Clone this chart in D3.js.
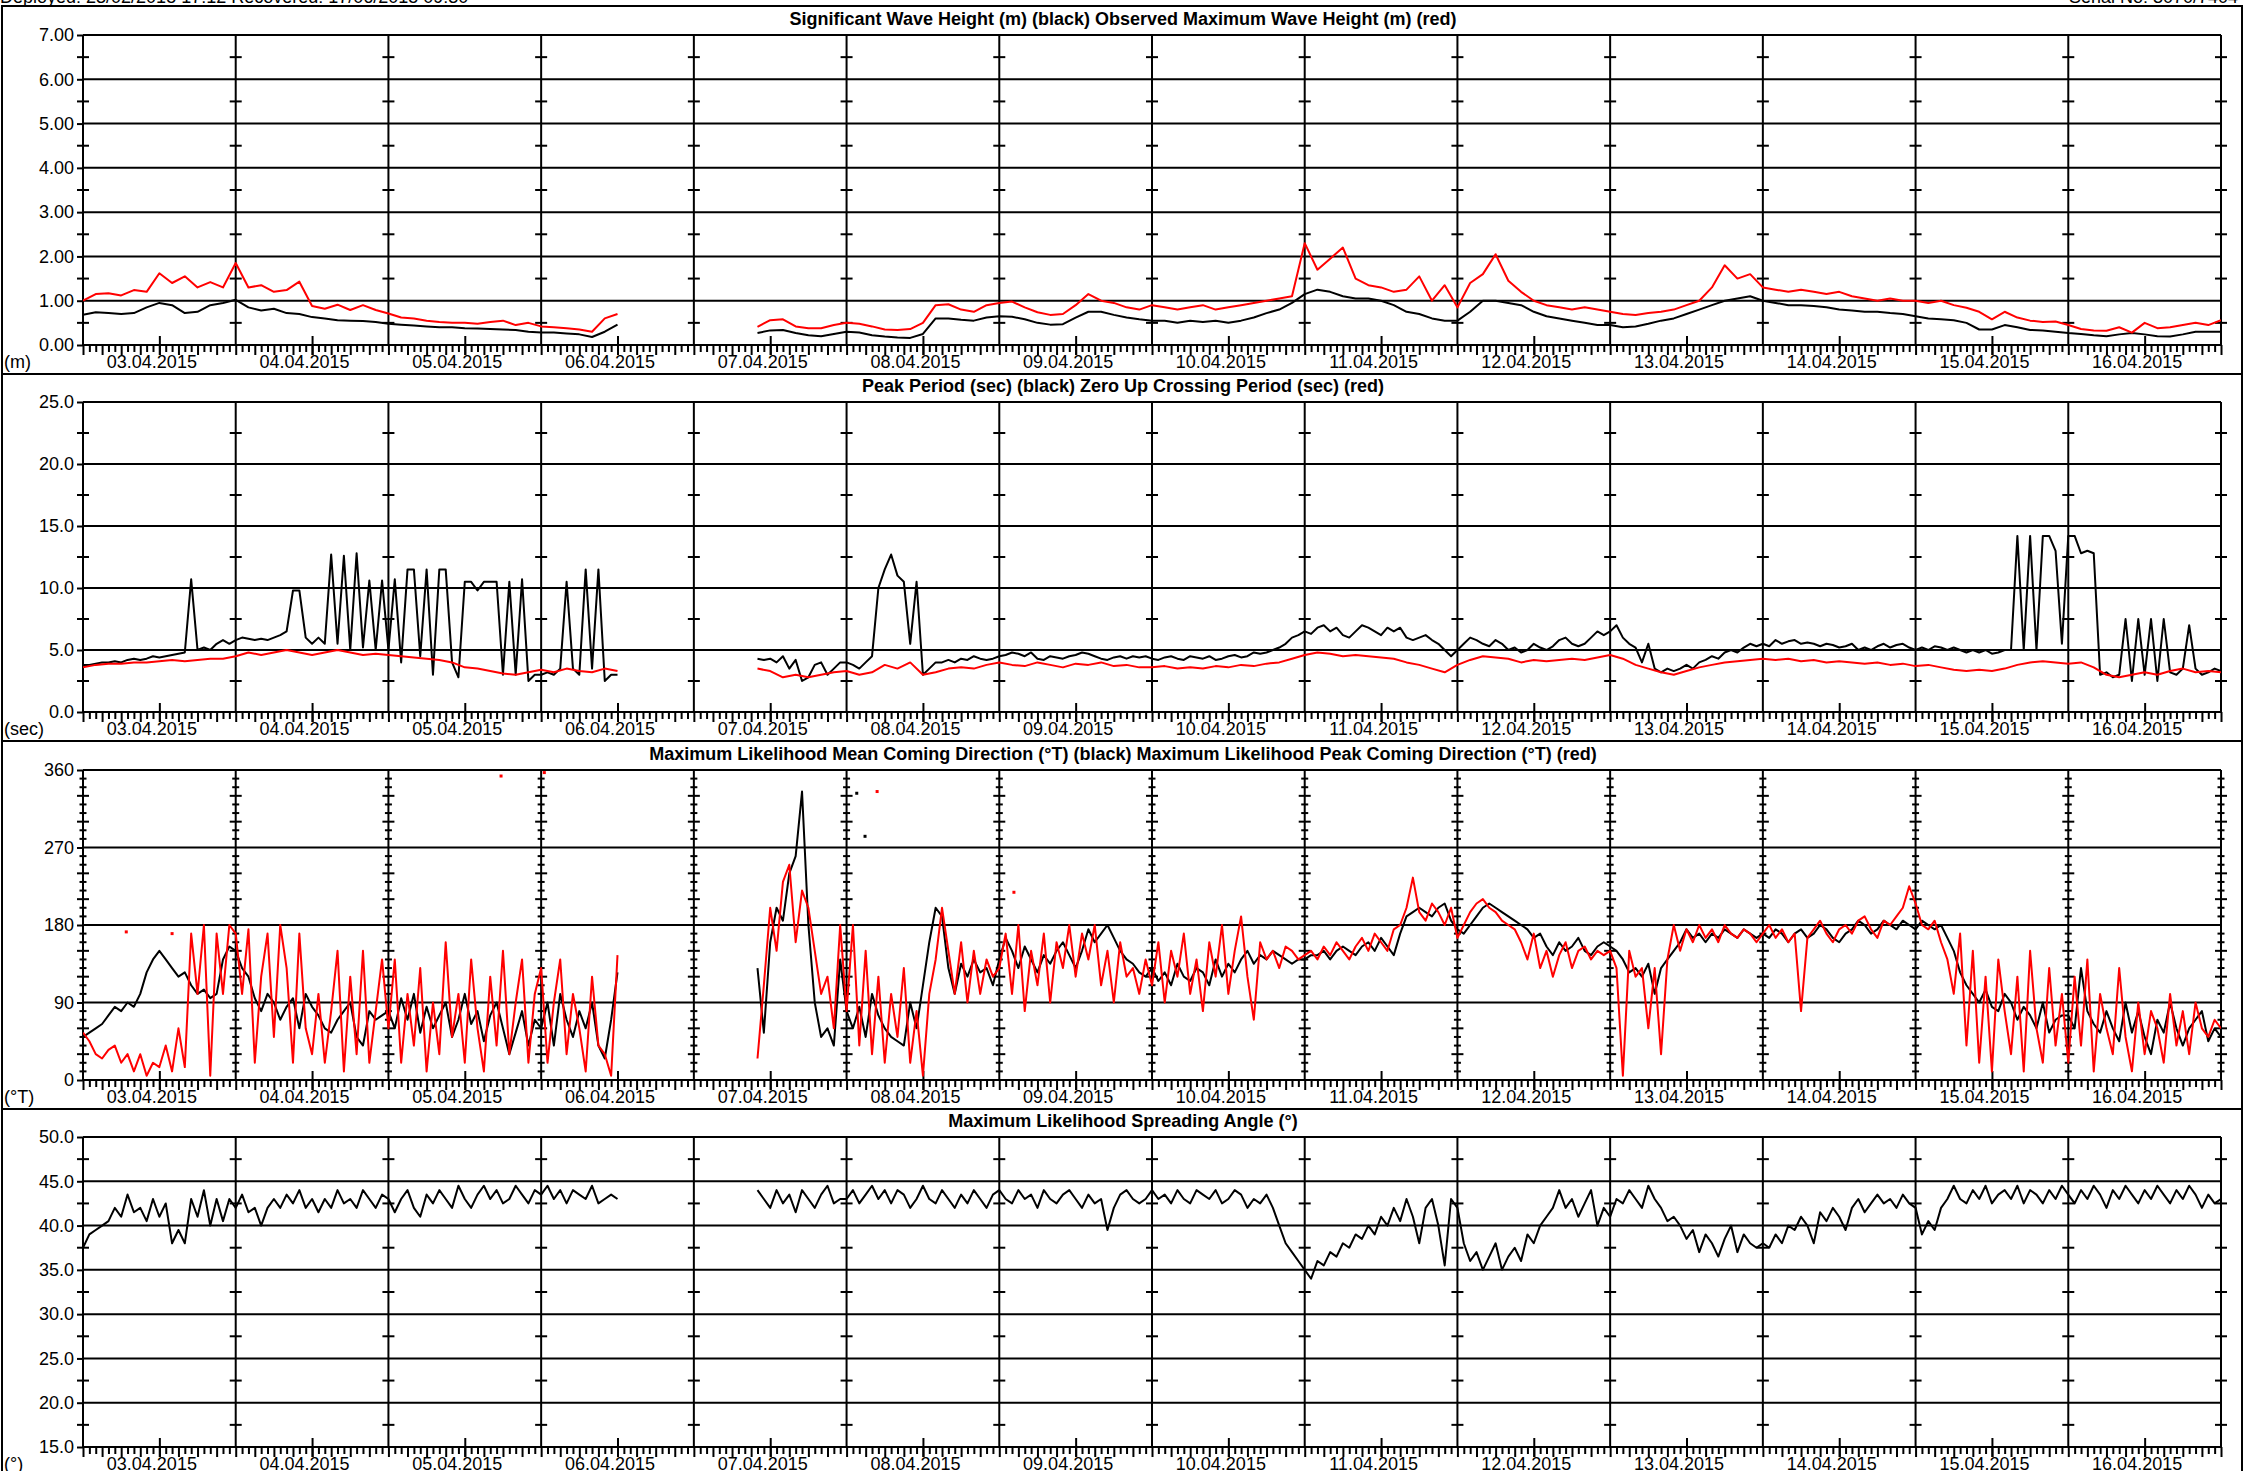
<!DOCTYPE html>
<html>
<head>
<meta charset="utf-8">
<script src="https://cdn.jsdelivr.net/npm/d3@7"></script>
<style>
  body { margin: 0; background: #fff; }
  svg { display: block; }
</style>
</head>
<body>
<svg id="chart" width="2246" height="1471"></svg>
<script>
// ---- data: each series is two segments (before / after the recording gap)
// segment A starts 03.04.2015 00:00, segment B starts 07.04.2015 10:00
const SEG_A_START = 0, SEG_B_START = 106; // hours since 03.04 00:00

// Significant wave height (m), 2 h step
const hsBlackA = [0.68,0.74,0.72,0.70,0.72,0.85,0.95,0.90,0.72,0.75,
  0.90,0.95,1.02,0.85,0.78,0.82,0.72,0.70,0.63,0.60,
  0.56,0.55,0.54,0.52,0.48,0.46,0.44,0.42,0.40,0.40,
  0.38,0.37,0.36,0.35,0.34,0.30,0.28,0.28,0.26,0.24,
  0.18,0.30,0.46];
const hsBlackB = [0.27,0.33,0.34,0.27,0.22,0.20,0.25,0.30,0.28,0.22,
  0.19,0.17,0.16,0.25,0.60,0.60,0.57,0.55,0.62,0.65,
  0.64,0.58,0.50,0.46,0.47,0.62,0.75,0.75,0.68,0.62,
  0.58,0.55,0.55,0.50,0.55,0.52,0.55,0.50,0.55,0.62,
  0.72,0.80,0.95,1.15,1.25,1.20,1.10,1.05,1.05,1.00,
  0.90,0.75,0.70,0.60,0.55,0.55,0.75,1.00,1.00,0.95,
  0.90,0.75,0.65,0.60,0.55,0.50,0.45,0.45,0.40,0.42,
  0.48,0.55,0.60,0.70,0.80,0.90,1.00,1.05,1.10,1.00,
  0.95,0.90,0.90,0.88,0.85,0.80,0.78,0.75,0.75,0.72,
  0.70,0.65,0.60,0.58,0.56,0.50,0.35,0.35,0.45,0.40,
  0.34,0.33,0.30,0.27,0.25,0.22,0.20,0.24,0.27,0.24,
  0.20,0.19,0.24,0.30,0.30,0.30];
// Observed maximum wave height (m), 2 h step
const hmaxRedA = [1.00,1.15,1.17,1.12,1.24,1.20,1.62,1.40,1.55,1.30,
  1.42,1.30,1.85,1.30,1.35,1.20,1.24,1.43,0.88,0.82,
  0.91,0.79,0.90,0.79,0.71,0.62,0.60,0.55,0.52,0.50,
  0.50,0.48,0.52,0.55,0.45,0.50,0.42,0.40,0.38,0.35,
  0.30,0.60,0.70];
const hmaxRedB = [0.41,0.56,0.58,0.42,0.38,0.38,0.45,0.50,0.48,0.42,
  0.35,0.34,0.36,0.50,0.90,0.92,0.80,0.75,0.90,0.95,
  0.98,0.85,0.74,0.68,0.70,0.90,1.15,1.00,0.95,0.85,
  0.80,0.90,0.85,0.80,0.85,0.90,0.80,0.85,0.90,0.95,
  1.00,1.05,1.10,2.30,1.70,1.95,2.20,1.50,1.35,1.30,
  1.20,1.25,1.55,1.00,1.35,0.85,1.40,1.60,2.05,1.45,
  1.20,1.00,0.90,0.85,0.80,0.85,0.80,0.75,0.70,0.68,
  0.72,0.75,0.80,0.90,1.00,1.30,1.80,1.50,1.60,1.30,
  1.25,1.20,1.25,1.20,1.15,1.20,1.10,1.05,1.00,1.05,
  1.00,1.00,0.95,1.00,0.90,0.84,0.75,0.58,0.75,0.62,
  0.55,0.52,0.53,0.45,0.36,0.33,0.32,0.40,0.28,0.50,
  0.38,0.40,0.45,0.50,0.45,0.56];

// Peak period (sec), 1 h step
const tpBlackA = [3.8,3.8,3.9,4.0,4.0,4.1,4.0,4.2,4.3,4.2,4.3,4.5,4.4,4.5,4.6,4.7,4.8,10.7,5.0,5.2,5.0,5.5,5.8,5.5,
  5.8,6.0,5.9,5.8,5.9,5.8,6.0,6.2,6.5,9.8,9.8,6.0,5.5,6.0,5.5,12.7,5.5,12.6,5.0,12.8,5.2,10.6,5.0,10.6,
  5.0,10.7,4.0,11.5,11.5,4.5,11.5,3.0,11.5,11.5,4.0,2.8,10.5,10.5,9.8,10.5,10.5,10.5,3.0,10.5,3.0,10.7,2.5,3.0,
  3.0,3.2,3.0,3.5,10.5,3.5,3.0,11.5,3.5,11.5,2.5,3.0,3.0];
const tpBlackB = [4.3,4.2,4.3,4.0,4.5,3.5,4.2,2.5,2.8,3.8,4.0,3.0,3.5,4.0,
  4.0,3.8,3.5,4.0,4.5,10.0,11.5,12.7,11.0,10.5,5.5,10.5,3.0,3.5,4.0,4.0,4.2,4.0,4.3,4.2,4.5,4.3,4.2,4.3,
  4.5,4.6,4.8,4.7,4.5,4.8,4.3,4.2,4.5,4.4,4.3,4.5,4.6,4.8,4.7,4.5,4.3,4.2,4.4,4.5,4.3,4.5,4.4,4.5,
  4.3,4.2,4.4,4.5,4.3,4.2,4.5,4.4,4.3,4.5,4.2,4.3,4.5,4.6,4.4,4.5,4.8,4.7,4.8,5.0,5.2,5.5,6.0,6.2,
  6.5,6.3,6.8,7.0,6.5,6.8,6.2,6.0,6.5,7.0,6.8,6.5,6.2,6.8,6.5,6.8,6.0,5.8,6.0,6.2,5.8,5.5,5.0,4.5,
  5.0,5.5,6.0,5.8,5.5,5.3,5.8,5.5,5.0,5.2,4.8,5.0,5.5,5.2,5.0,5.3,5.8,6.0,5.5,5.3,5.5,6.0,6.5,6.2,
  6.5,7.0,6.0,5.5,5.2,4.0,5.5,3.5,3.2,3.5,3.3,3.5,3.8,3.5,4.0,4.2,4.5,4.3,4.8,5.0,4.8,5.2,5.5,5.3,
  5.5,5.3,5.8,5.5,5.7,5.8,5.5,5.6,5.5,5.3,5.5,5.4,5.2,5.3,5.5,5.0,5.2,5.0,5.3,5.5,5.2,5.4,5.5,5.2,
  5.0,5.2,5.0,5.3,5.2,5.0,5.2,5.0,4.8,5.0,4.8,5.0,4.7,4.8,5.0,5.0,14.2,5.0,14.2,5.0,14.2,14.2,13.0,5.5,
  14.2,14.2,12.8,13.0,12.8,3.0,3.2,2.8,3.0,7.5,2.5,7.5,3.0,7.5,2.5,7.5,3.2,3.0,3.5,7.0,3.5,3.0,3.2,3.5,3.3];
// Zero up crossing period (sec), 2 h step
const tzRedA = [3.6,3.8,3.9,3.9,4.0,4.0,4.1,4.2,4.1,4.2,4.3,4.3,
  4.5,4.8,4.6,4.8,5.0,4.8,4.6,4.8,5.0,4.8,4.6,4.7,
  4.6,4.5,4.4,4.3,4.2,4.0,3.6,3.5,3.3,3.1,3.0,3.2,
  3.4,3.2,3.5,3.3,3.2,3.5,3.3];
const tzRedB = [3.5,3.3,2.8,3.0,2.8,3.0,3.2,
  3.3,3.0,3.2,3.8,3.5,4.0,3.0,3.2,3.5,3.6,3.5,3.8,
  4.0,3.8,3.7,4.0,3.8,3.6,3.9,3.8,4.0,3.7,3.8,3.6,
  3.6,3.7,3.5,3.6,3.5,3.7,3.6,3.8,3.7,3.9,4.0,4.3,
  4.6,4.8,4.7,4.5,4.6,4.5,4.4,4.3,4.0,3.8,3.5,3.2,
  3.8,4.2,4.5,4.4,4.3,4.0,4.2,4.1,4.2,4.3,4.2,4.4,
  4.6,4.3,3.8,3.5,3.2,3.0,3.3,3.6,3.8,4.0,4.1,4.2,
  4.3,4.2,4.3,4.1,4.2,4.0,4.1,4.0,3.9,4.0,3.8,3.9,
  3.7,3.8,3.6,3.4,3.3,3.4,3.3,3.5,3.8,4.0,4.1,4.0,
  3.9,4.0,3.6,3.0,2.8,3.0,3.2,3.0,3.3,3.5,3.2,3.3,3.2];

// Mean coming direction (°T), 1 h step
const dirMeanA = [50,55,60,65,75,85,80,90,85,100,125,140,150,140,130,120,125,110,100,105,95,100,140,155,
  150,130,120,95,80,100,90,70,85,95,60,100,85,75,60,55,70,80,90,50,40,80,70,75,
  80,60,95,70,100,55,85,60,75,90,50,70,100,65,80,45,75,90,60,30,55,80,40,70,
  60,90,40,100,70,50,80,60,90,40,25,70,125];
const dirMeanB = [130,55,160,200,185,240,260,335,180,90,50,60,40,140,
  80,60,85,50,100,75,60,50,45,40,90,60,110,160,200,190,130,100,135,120,140,125,130,110,
  140,165,150,130,155,140,125,145,135,150,160,145,130,150,175,160,170,180,165,150,140,135,125,120,
  130,115,125,110,135,120,115,130,125,110,140,120,135,125,140,150,135,145,140,150,145,140,135,140,
  140,145,145,150,140,150,155,150,145,155,160,150,165,155,145,170,190,195,200,195,190,200,205,185,
  175,170,180,190,200,205,200,195,190,185,180,175,165,170,155,145,160,150,155,165,150,145,155,160,
  155,150,140,125,130,120,135,100,130,140,150,160,175,165,170,160,170,165,175,170,165,175,170,165,
  170,165,175,170,160,170,175,165,170,180,175,165,160,170,175,185,180,170,175,185,180,175,185,180,
  175,185,180,175,180,165,150,125,110,100,90,105,85,80,100,90,70,85,75,60,90,55,70,75,
  75,60,130,80,65,55,80,60,45,90,55,80,50,30,70,55,90,60,40,60,70,80,45,60,50];
// Peak coming direction (°T), 1 h step
const dirPeakA = [55,45,30,25,35,40,20,30,10,30,5,20,15,40,10,60,15,170,100,180,5,170,100,180,
  170,100,175,20,120,170,50,180,130,20,170,60,30,100,20,80,150,10,120,30,150,20,80,140,
  60,140,20,100,40,130,10,90,30,160,50,100,20,140,60,10,120,40,150,30,90,140,20,100,
  130,20,90,140,30,100,60,10,120,40,30,5,145];
const dirPeakB = [25,110,200,150,230,250,160,220,200,150,100,120,60,180,
  80,180,40,150,30,120,20,100,50,130,20,80,5,100,140,200,150,100,160,90,150,100,140,120,
  130,170,100,180,80,150,110,170,90,160,130,180,120,170,140,180,110,150,90,160,120,130,100,140,
  110,160,90,150,120,170,100,140,80,160,120,180,100,150,190,120,70,160,140,150,130,155,150,140,
  145,150,140,155,145,160,150,140,155,165,150,170,160,150,175,180,200,235,195,185,205,195,180,200,
  165,180,195,205,210,200,195,185,180,175,160,140,170,130,150,120,145,160,130,150,155,140,150,145,
  150,130,5,150,120,130,60,130,30,140,180,150,175,160,180,165,175,160,180,170,165,175,170,160,
  170,180,165,175,160,170,80,165,175,185,170,160,175,180,170,185,190,175,165,185,180,190,200,225,
  205,180,175,185,160,140,100,170,40,150,20,120,10,140,80,30,120,10,150,60,20,130,40,100,
  20,120,40,140,10,100,60,30,130,50,10,90,30,80,60,20,100,40,80,30,90,60,50,70,60];
// isolated samples (hour, degrees)
const strayMeanDir = [[121.6,333],[122.9,283]];
const strayPeakDir = [[6.8,172],[14.0,170],[65.7,353],[72.5,357],[124.8,335],[146.3,218]];

// Spreading angle (°), 1 h step
const spreadA = [37.5,39,39.5,40,40.5,42,41,43.5,41.5,42,40.5,43,41,42.5,38,39.5,38,43,41,44,40,43,40.5,43,
  42,43.5,41.5,42,40,42,43,42,43.5,42.5,44,42,43,41.5,43,42,44,42.5,43,42,44,43,42,43.5,
  43,41.5,43,44,42,41,43.5,42.5,44,43,42,44.5,43,42,43.5,44.5,43,44,42.5,43,44.5,43.5,42.5,44,
  43.5,44.5,43,44,42.5,44,43.5,43,44.5,42.5,43,43.5,43];
const spreadB = [44,43,42,44,42.5,43.5,41.5,44,43,42,43.5,44.5,42.5,43,
  43,44,42.5,43.5,44.5,43,44,42.5,44,43.5,42,43,44.5,43,42.5,44,43,42,43.5,42.5,44,43,42,43.5,
  44,43,42.5,44,43,43.5,42,44,43,42.5,43.5,44,43,42,43.5,42.5,43,39.5,42,43.5,44,43,42.5,43,
  44,43,43.5,42.5,44,43,42.5,44,43.5,43,44,42.5,43,44,43.5,42,43,42.5,43.5,42,40,38,37,36,
  35,34,36,35.5,37,36.5,38,37.5,39,38.5,40,39,41,40,42,40.5,43,41,38,42,43,40,35.5,43,
  42,38,36,37,35,36.5,38,35,36.5,37.5,36,39,38,40,41,42,44,42,43,41,42.5,44,40,42,
  41,43,42.5,44,43,42,44.5,43,42,40.5,41,40,38.5,39.5,37,39,38,36.5,38.5,40,37,39,38,37.5,
  38,37.5,39,38,40,39.5,41,40,38,41.5,40.5,42,41,39.5,42,43,41.5,42.5,43.5,42.5,43,42,43.5,42.5,
  42,39,40.5,39.5,42,43,44.5,43,42.5,44,43,44.5,42.5,43.5,44,43,44.5,42.5,44,43.5,42.5,44,43,44.5,
  43.5,42.5,44,43,44.5,43.5,42,44,43,44.5,43.5,42.5,44,43,44.5,43.5,42.5,44,43,44.5,43.5,42,43.5,42.5,43];

const titles = [
  "Significant Wave Height (m) (black) Observed Maximum Wave Height (m) (red)",
  "Peak Period (sec) (black) Zero Up Crossing Period (sec) (red)",
  "Maximum Likelihood Mean Coming Direction (°T) (black) Maximum Likelihood Peak Coming Direction (°T) (red)",
  "Maximum Likelihood Spreading Angle (°)"
];
const units = ["(m)", "(sec)", "(°T)", "(°)"];
const headerLeft = "Deployed: 23/02/2015 17:12 Recovered: 17/06/2015 09:30";
const headerRight = "Serial No: 3070/7404";

// ---- layout
const FONT = "'Liberation Sans', Arial, Helvetica, sans-serif";
const X0 = 83, X1 = 2221;
const PANEL_TOP = [35, 402, 770, 1137], PANEL_H = 310;
const T0 = new Date(Date.UTC(2015, 3, 3)), T1 = new Date(Date.UTC(2015, 3, 17));
const HOUR = 3600e3;
const x = d3.scaleUtc().domain([T0, T1]).range([X0, X1]);

const seg = (start, step, values) => ({ start, step, values });

const panels = [
  { domain: [0, 7], major: d3.range(0, 7.5, 1), fmt: d3.format(".2f"),
    minor: d3.range(0.5, 7, 1).map(v => [v, 6]),
    series: [
      { color: "#000", segs: [seg(SEG_A_START, 2, hsBlackA), seg(SEG_B_START, 2, hsBlackB)] },
      { color: "#ff0000", segs: [seg(SEG_A_START, 2, hmaxRedA), seg(SEG_B_START, 2, hmaxRedB)] }
    ] },
  { domain: [0, 25], major: d3.range(0, 26, 5), fmt: d3.format(".1f"),
    minor: d3.range(2.5, 25, 5).map(v => [v, 6]),
    series: [
      { color: "#000", segs: [seg(SEG_A_START, 1, tpBlackA), seg(SEG_B_START, 1, tpBlackB)] },
      { color: "#ff0000", segs: [seg(SEG_A_START, 2, tzRedA), seg(SEG_B_START, 2, tzRedB)] }
    ] },
  { domain: [0, 360], major: d3.range(0, 361, 90), fmt: d3.format("d"),
    minor: d3.range(10, 360, 10).filter(v => v % 90 !== 0).map(v => [v, v % 30 === 0 ? 6 : 3.5]),
    series: [
      { color: "#000", segs: [seg(SEG_A_START, 1, dirMeanA), seg(SEG_B_START, 1, dirMeanB)], stray: strayMeanDir },
      { color: "#ff0000", segs: [seg(SEG_A_START, 1, dirPeakA), seg(SEG_B_START, 1, dirPeakB)], stray: strayPeakDir }
    ] },
  { domain: [15, 50], major: d3.range(15, 51, 5), fmt: d3.format(".1f"),
    minor: d3.range(17.5, 50, 5).map(v => [v, 6]),
    series: [
      { color: "#000", segs: [seg(SEG_A_START, 1, spreadA), seg(SEG_B_START, 1, spreadB)] }
    ] }
];

const svg = d3.select("#chart").attr("font-family", FONT);

// header + frame
svg.append("text").attr("x", 0).attr("y", 3).attr("font-size", 18).text(headerLeft);
svg.append("text").attr("x", 2238).attr("y", 3).attr("font-size", 18)
  .attr("text-anchor", "end").text(headerRight);
svg.append("rect").attr("x", 2).attr("y", 6).attr("width", 2240).attr("height", 1500)
  .attr("fill", "none").attr("stroke", "#000").attr("stroke-width", 2);

const days = d3.utcDay.range(T0, new Date(+T1 + 1));
const hours = d3.utcHour.range(T0, new Date(+T1 + 1));
const noons = d3.utcDay.range(T0, T1).map(d => d3.utcHour.offset(d, 12));
const fmtDate = d3.utcFormat("%d.%m.%Y");

panels.forEach((p, i) => {
  const top = PANEL_TOP[i], bottom = top + PANEL_H;
  const y = d3.scaleLinear().domain(p.domain).range([bottom, top]);
  const g = svg.append("g");

  g.append("text").attr("x", 1123).attr("y", top - 10).attr("text-anchor", "middle")
    .attr("font-size", 18).attr("font-weight", "bold").text(titles[i]);

  // horizontal grid
  g.selectAll("line.grid").data(p.major).join("line").attr("class", "grid")
    .attr("x1", X0).attr("x2", X1).attr("y1", d => y(d)).attr("y2", d => y(d))
    .attr("stroke", "#000").attr("stroke-width", 2);

  // day lines
  g.selectAll("line.day").data(days).join("line").attr("class", "day")
    .attr("x1", d => x(d)).attr("x2", d => x(d)).attr("y1", top).attr("y2", bottom)
    .attr("stroke", "#000").attr("stroke-width", 2);

  // minor crosses on every day line
  const crosses = [];
  days.forEach(d => p.minor.forEach(([v, w]) => crosses.push({ d, v, w })));
  g.selectAll("line.cross").data(crosses).join("line").attr("class", "cross")
    .attr("x1", c => x(c.d) - c.w).attr("x2", c => x(c.d) + c.w)
    .attr("y1", c => y(c.v)).attr("y2", c => y(c.v))
    .attr("stroke", "#000").attr("stroke-width", 2);

  // hourly ticks
  const hx = g.append("g").attr("transform", `translate(0,${bottom})`)
    .call(d3.axisBottom(x).tickValues(hours).tickSizeInner(7).tickSizeOuter(0).tickFormat(""));
  hx.select(".domain").remove();
  hx.selectAll(".tick line").attr("stroke-width", 2)
    .attr("y2", d => d.getUTCHours() % 3 === 0 ? 10 : 7);

  // noon ticks + date labels
  const nx = g.append("g").attr("transform", `translate(0,${bottom})`)
    .call(d3.axisBottom(x).tickValues(noons).tickSize(10).tickPadding(0.5).tickFormat(fmtDate));
  nx.attr("font-family", FONT);
  nx.select(".domain").remove();
  nx.selectAll(".tick line").attr("y1", -9).attr("stroke-width", 2);
  nx.selectAll(".tick text").attr("font-size", 18).attr("dx", -8);

  // y axis labels
  const ya = g.append("g").attr("transform", `translate(${X0},0)`)
    .call(d3.axisLeft(y).tickValues(p.major).tickSize(6).tickPadding(3).tickFormat(p.fmt));
  ya.attr("font-family", FONT);
  ya.select(".domain").remove();
  ya.selectAll(".tick line").attr("stroke-width", 2);
  ya.selectAll(".tick text").attr("font-size", 18);

  g.append("text").attr("x", 4).attr("y", bottom + 23).attr("font-size", 18).text(units[i]);

  // data
  const clipId = "clip" + i;
  svg.append("clipPath").attr("id", clipId).append("rect")
    .attr("x", X0).attr("y", top - 1).attr("width", X1 - X0).attr("height", PANEL_H + 2);
  const dg = g.append("g").attr("clip-path", `url(#${clipId})`);
  const line = d3.line().defined(d => d.v != null)
    .x(d => x(new Date(+T0 + d.h * HOUR))).y(d => y(d.v));

  p.series.forEach(s => {
    const pts = [];
    s.segs.forEach(sg => {
      sg.values.forEach((v, k) => pts.push({ h: sg.start + k * sg.step, v }));
      pts.push({ h: null, v: null });
    });
    dg.append("path").datum(pts).attr("d", line).attr("fill", "none")
      .attr("stroke", s.color).attr("stroke-width", 2).attr("stroke-linejoin", "round");
    if (s.stray) {
      dg.selectAll(null).data(s.stray).join("rect")
        .attr("x", d => x(new Date(+T0 + d[0] * HOUR)) - 1.5).attr("y", d => y(d[1]) - 1.5)
        .attr("width", 3).attr("height", 3).attr("fill", s.color);
    }
  });

  if (i < panels.length - 1) {
    g.append("line").attr("x1", 2).attr("x2", 2242).attr("y1", top + 339).attr("y2", top + 339)
      .attr("stroke", "#000").attr("stroke-width", 2);
  }
});
</script>
</body>
</html>
